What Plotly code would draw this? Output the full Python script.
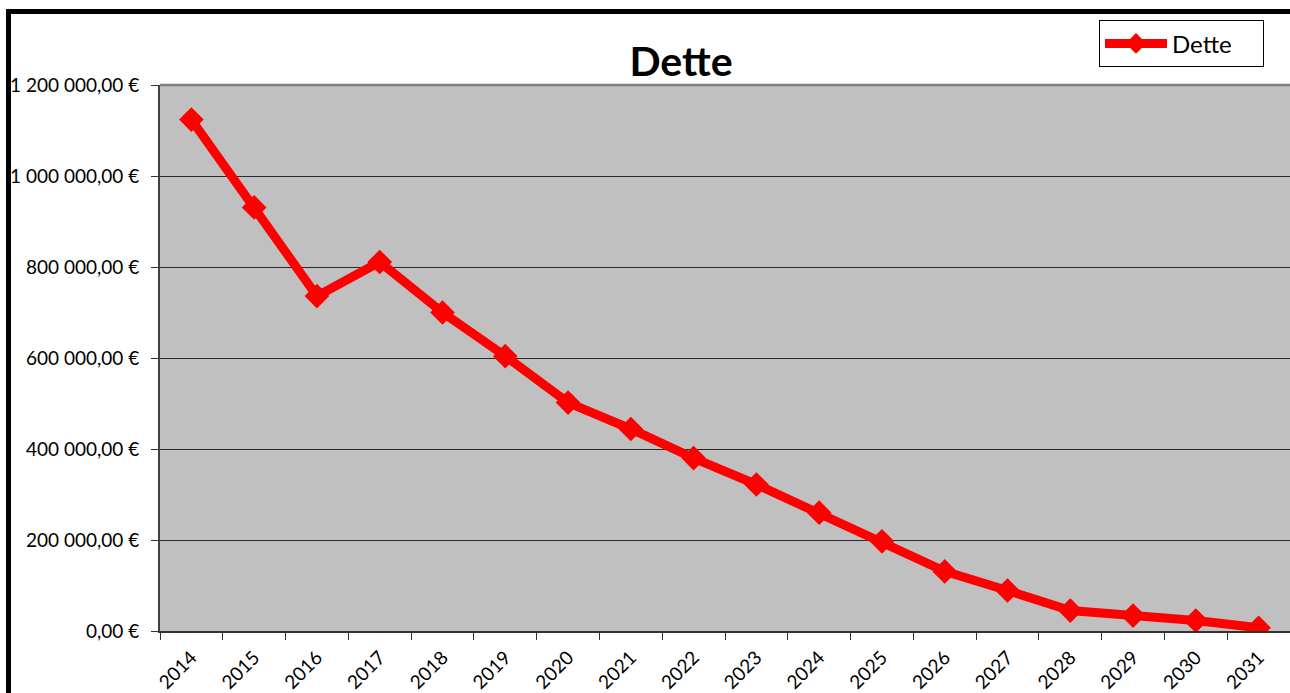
import plotly.graph_objects as go

years = ["2014", "2015", "2016", "2017", "2018", "2019", "2020", "2021", "2022",
         "2023", "2024", "2025", "2026", "2027", "2028", "2029", "2030", "2031"]
dette = [1124000, 931000, 736000, 811000, 700000, 604000, 502000, 444000, 380000,
         322000, 260000, 197000, 131000, 89000, 45000, 34000, 23000, 7000]
y_tickvals = [0, 200000, 400000, 600000, 800000, 1000000, 1200000]
y_ticktext = ["0,00 €", "200 000,00 €", "400 000,00 €", "600 000,00 €",
              "800 000,00 €", "1 000 000,00 €", "1 200 000,00 €"]

W, H = 1290, 693
L, T, B, R = 160, 85, 59, 0
pw = W - L - R
ph = H - T - B

def px(x):
    return (x - L) / pw

def py(y):
    return (H - B - y) / ph

fig = go.Figure()
fig.add_trace(go.Scatter(
    x=years, y=dette, name="Dette", mode="lines+markers",
    line=dict(color="#FF0000", width=9),
    marker=dict(symbol="diamond", size=19, color="#FF0000"),
))

fig.update_layout(
    width=W, height=H,
    margin=dict(l=L, r=R, t=T, b=B, pad=0),
    paper_bgcolor="white",
    plot_bgcolor="#C0C0C0",
    font=dict(family="Lato, Carlito, Calibri, sans-serif", color="black"),
    title=dict(text="<b>Dette</b>", x=px(681), xref="paper", xanchor="center",
               y=1 - 76 / H, yref="container", yanchor="bottom",
               font=dict(size=41, color="black")),
    showlegend=True,
    legend=dict(orientation="h", x=px(1264), xanchor="right", y=py(20),
                yanchor="top",
                bgcolor="white", bordercolor="black", borderwidth=1,
                font=dict(size=24, color="black"), itemwidth=62,
                entrywidth=86, entrywidthmode="pixels"),
    xaxis=dict(
        type="category", range=[-0.5, 17.5],
        showgrid=False, zeroline=False,
        showline=True, linecolor="#333333", linewidth=2,
        ticks="outside", ticklen=7, tickwidth=1.3, tickcolor="#333333",
        tickson="boundaries", tickangle=-45, ticklabelstandoff=6,
        tickfont=dict(size=19, color="black"),
    ),
    yaxis=dict(
        range=[0, 1200000],
        tickvals=y_tickvals, ticktext=y_ticktext,
        showgrid=True, gridcolor="#2a2a2a", gridwidth=1.4,
        zeroline=False,
        showline=True, linecolor="#404040", linewidth=2,
        ticks="outside", ticklen=7, tickwidth=1.3, tickcolor="#333333",
        ticklabelstandoff=8,
        tickfont=dict(size=19, color="black"),
    ),
    shapes=[
        # plot area top border
        dict(type="line", xref="paper", yref="paper", x0=0, x1=1, y0=1, y1=1,
             line=dict(color="#808080", width=2.5)),
        # chart frame (left and top edges visible)
        dict(type="line", xref="paper", yref="paper", x0=px(8.5), x1=px(8.5),
             y0=py(9), y1=py(H + 30), line=dict(color="black", width=5)),
        dict(type="line", xref="paper", yref="paper", x0=px(6), x1=px(W + 30),
             y0=py(11), y1=py(11), line=dict(color="black", width=5)),
    ],
)

fig.write_html(
    "out.html",
    config={"displayModeBar": False},
    post_script="document.body.style.margin='0';document.body.style.overflow='hidden';",
)
